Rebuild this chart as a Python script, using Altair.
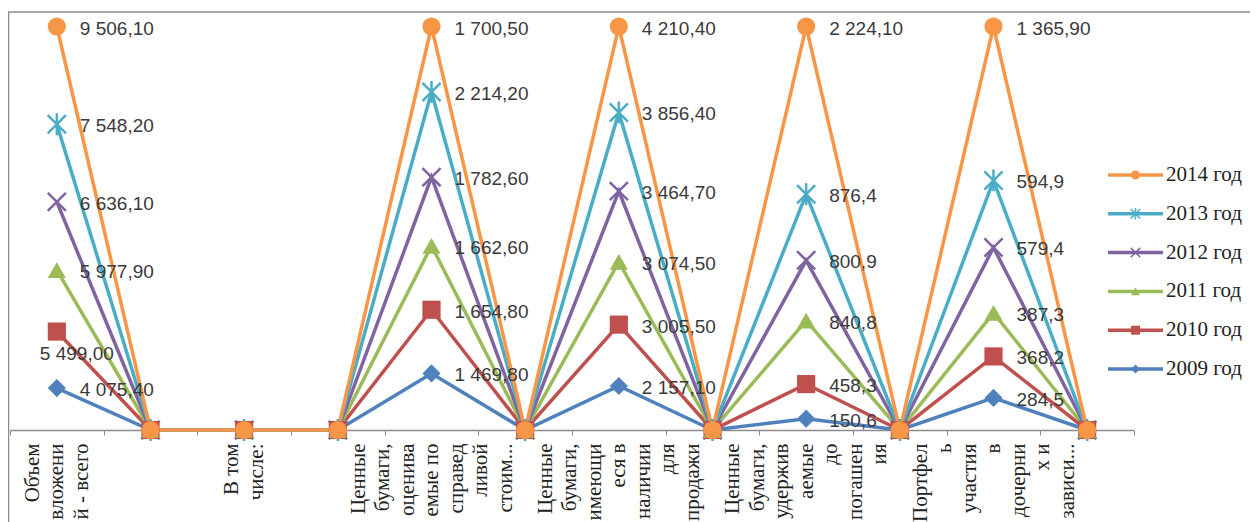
import altair as alt
import pandas as pd

# ---- data ----
categories = [
    ["Объем", "вложени", "й - всего"],
    [],
    ["В том", "числе:"],
    [],
    ["Ценные", "бумаги,", "оценива", "емые по", "справед", "ливой", "стоим..."],
    [],
    ["Ценные", "бумаги,", "имеющи", "еся в", "наличии", "для", "продажи"],
    [],
    ["Ценные", "бумаги,", "удержив", "аемые", "до", "погашен", "ия"],
    [],
    ["Портфел", "ь", "участия", "в", "дочерни", "х и", "зависи..."],
    [],
]

series = ["2009 год", "2010 год", "2011 год", "2012 год", "2013 год", "2014 год"]

v2009 = [4075.4, 0, 0, 0, 1469.8, 0, 2157.1, 0, 150.6, 0, 284.5, 0]
v2010 = [5499.0, 0, 0, 0, 1654.8, 0, 3005.5, 0, 458.3, 0, 368.2, 0]
v2011 = [5977.9, 0, 0, 0, 1662.6, 0, 3074.5, 0, 840.8, 0, 387.3, 0]
v2012 = [6636.1, 0, 0, 0, 1782.6, 0, 3464.7, 0, 800.9, 0, 579.4, 0]
v2013 = [7548.2, 0, 0, 0, 2214.2, 0, 3856.4, 0, 876.4, 0, 594.9, 0]
v2014 = [9506.1, 0, 0, 0, 1700.5, 0, 4210.4, 0, 2224.1, 0, 1365.9, 0]

l2009 = ["4 075,40", "", "", "", "1 469,80", "", "2 157,10", "", "150,6", "", "284,5", ""]
l2010 = ["5 499,00", "", "", "", "1 654,80", "", "3 005,50", "", "458,3", "", "368,2", ""]
l2011 = ["5 977,90", "", "", "", "1 662,60", "", "3 074,50", "", "840,8", "", "387,3", ""]
l2012 = ["6 636,10", "", "", "", "1 782,60", "", "3 464,70", "", "800,9", "", "579,4", ""]
l2013 = ["7 548,20", "", "", "", "2 214,20", "", "3 856,40", "", "876,4", "", "594,9", ""]
l2014 = ["9 506,10", "", "", "", "1 700,50", "", "4 210,40", "", "2 224,10", "", "1 365,90", ""]

values = [v2009, v2010, v2011, v2012, v2013, v2014]
labels = [l2009, l2010, l2011, l2012, l2013, l2014]

colors = ["#4F81BD", "#C0504D", "#9BBB59", "#8064A2", "#4BACC6", "#F79646"]
X_PATH = "M-1,-1L1,1M-1,1L1,-1"
AST_PATH = "M-1,-1L1,1M-1,1L1,-1M0,-1.2L0,1.2"
shapes = ["diamond", "square", "triangle-up", X_PATH, AST_PATH, "circle"]
sizes = [330, 330, 360, 300, 380, 330]

cat_keys = [f"{i}|" + "~".join(c) for i, c in enumerate(categories)]

rows = []
for si, s in enumerate(series):
    for ci, key in enumerate(cat_keys):
        rows.append({"series": s, "ord": si, "ci": ci, "cat": key,
                     "value": values[si][ci], "label": labels[si][ci]})
df = pd.DataFrame(rows)

SERIF = "Liberation Serif"
SANS = "Liberation Sans"
LH = 24.5

color_scale = alt.Scale(domain=series, range=colors)
shape_scale = alt.Scale(domain=series, range=shapes)

base = (
    alt.Chart(df)
    .transform_joinaggregate(total="sum(value)", groupby=["ci"])
    .transform_calculate(frac="datum.total > 0 ? datum.value / datum.total : 0")
    .transform_window(cum="sum(frac)", groupby=["ci"],
                      sort=[alt.SortField("ord")], frame=[None, 0])
)

# centre multi-line rotated labels on their tick
label_offset = {
    "condition": [
        {"test": f"length(split(datum.value, '~')) == {n}", "value": -(n - 1) * LH / 2}
        for n in (2, 3, 4, 5, 6, 7)
    ],
    "value": 0,
}

x_enc = alt.X(
    "cat:N", sort=cat_keys,
    scale=alt.Scale(type="band", paddingInner=0, paddingOuter=0),
    axis=alt.Axis(
        title=None,
        labelExpr="split(slice(datum.label, indexof(datum.label, '|') + 1), '~')",
        labelAngle=-90, labelFont=SERIF, labelFontSize=21, labelColor="#222222",
        labelLineHeight=LH, labelLimit=0, labelOverlap=False, labelPadding=8,
        labelOffset=label_offset,
        tickBand="extent", ticks=True, tickSize=5, tickColor="#8c8c8c",
        domainColor="#8c8c8c", domainWidth=1.5, grid=False,
    ),
)
y_ticks = [i / 10 for i in range(11)]
y_scale = alt.Scale(domain=[0, 1], nice=False, zero=True)
y_enc = alt.Y("cum:Q", scale=y_scale,
              axis=alt.Axis(title=None, labels=False, ticks=False, domain=False,
                            values=y_ticks, grid=True, gridColor="#BEBEBE",
                            gridWidth=1.5))
y_plain = alt.Y("cum:Q", scale=y_scale, axis=None)

lines = base.mark_line(strokeWidth=3.5).encode(
    x=x_enc, y=y_enc,
    color=alt.Color("series:N", scale=color_scale, legend=None),
    order=alt.Order("ci:Q"),
)

filled_pts = base.transform_filter(
    alt.FieldOneOfPredicate(field="series", oneOf=["2009 год", "2010 год", "2011 год", "2014 год"])
).mark_point(filled=True, opacity=1).encode(
    x=alt.X("cat:N", sort=cat_keys), y=y_plain,
    color=alt.Color("series:N", scale=color_scale, legend=None),
    shape=alt.Shape("series:N", scale=shape_scale, legend=None),
    size=alt.Size("series:N", scale=alt.Scale(domain=series, range=sizes), legend=None),
    order=alt.Order("ord:Q"),
)

stroke_pts = base.transform_filter(
    alt.FieldOneOfPredicate(field="series", oneOf=["2012 год", "2013 год"])
).mark_point(filled=False, strokeWidth=2.5, opacity=1).encode(
    x=alt.X("cat:N", sort=cat_keys), y=y_plain,
    color=alt.Color("series:N", scale=color_scale, legend=None),
    shape=alt.Shape("series:N", scale=shape_scale, legend=None),
    size=alt.Size("series:N", scale=alt.Scale(domain=series, range=sizes), legend=None),
    order=alt.Order("ord:Q"),
)

text_labels = base.transform_filter(
    "datum.value > 0 && !(datum.ci == 0 && datum.ord == 1)"
).mark_text(align="left", baseline="middle", dx=23, dy=2, font=SANS,
            fontSize=19, color="#3a3a3a").encode(
    x=alt.X("cat:N", sort=cat_keys), y=y_plain, text="label:N")

text_special = base.transform_filter(
    "datum.ci == 0 && datum.ord == 1"
).mark_text(align="left", baseline="middle", dx=-17, dy=22, font=SANS,
            fontSize=19, color="#3a3a3a").encode(
    x=alt.X("cat:N", sort=cat_keys), y=y_plain, text="label:N")

frame_df = pd.DataFrame({"k": [0]})
frame_top = alt.Chart(frame_df).mark_rule(color="#8a8a8a", strokeWidth=1.5).encode(
    x=alt.value(-2), x2=alt.value(1250), y=alt.value(-14.5))
frame_left = alt.Chart(frame_df).mark_rule(color="#8a8a8a", strokeWidth=1.5).encode(
    x=alt.value(-1.5), y=alt.value(-14.5), y2=alt.value(520))

main = alt.layer(lines, stroke_pts, filled_pts, text_labels, text_special)

# ---- manual legend (line + marker + text), newest year on top ----
leg_df = pd.DataFrame({"series": series, "ord": list(range(len(series)))})
leg_order = series[::-1]
leg_y = alt.Y("series:N", sort=leg_order,
              scale=alt.Scale(type="point", domain=leg_order, range=[148.5, 342.5], padding=0),
              axis=None)
leg_base = alt.Chart(leg_df)
leg_rule = leg_base.mark_rule(strokeWidth=3.5).encode(
    x=alt.value(1098), x2=alt.value(1153), y=leg_y,
    color=alt.Color("series:N", scale=color_scale, legend=None))
leg_filled = leg_base.transform_filter(
    alt.FieldOneOfPredicate(field="series", oneOf=["2009 год", "2010 год", "2011 год", "2014 год"])
).mark_point(filled=True, size=80, opacity=1).encode(
    x=alt.value(1125.5), y=leg_y,
    color=alt.Color("series:N", scale=color_scale, legend=None),
    shape=alt.Shape("series:N", scale=shape_scale, legend=None))
leg_stroke = leg_base.transform_filter(
    alt.FieldOneOfPredicate(field="series", oneOf=["2012 год", "2013 год"])
).mark_point(filled=False, size=90, strokeWidth=1.5, opacity=1).encode(
    x=alt.value(1125.5), y=leg_y,
    color=alt.Color("series:N", scale=color_scale, legend=None),
    shape=alt.Shape("series:N", scale=shape_scale, legend=None))
leg_text = leg_base.mark_text(align="left", baseline="middle", font=SERIF,
                              fontSize=21, color="#222222").encode(
    x=alt.value(1156), y=leg_y, text="series:N")
legend = alt.layer(leg_rule, leg_filled, leg_stroke, leg_text)

chart = (
    alt.layer(frame_top, frame_left, main, legend)
    .resolve_scale(y="independent")
    .properties(
        width=1124, height=403.5,
        autosize=alt.AutoSizeParams(type="none"),
        padding={"left": 2, "top": 18.5, "right": 116, "bottom": 92},
    )
    .configure_view(stroke=None)
)

chart.save("out.html", embed_options={"renderer": "svg", "actions": False})
